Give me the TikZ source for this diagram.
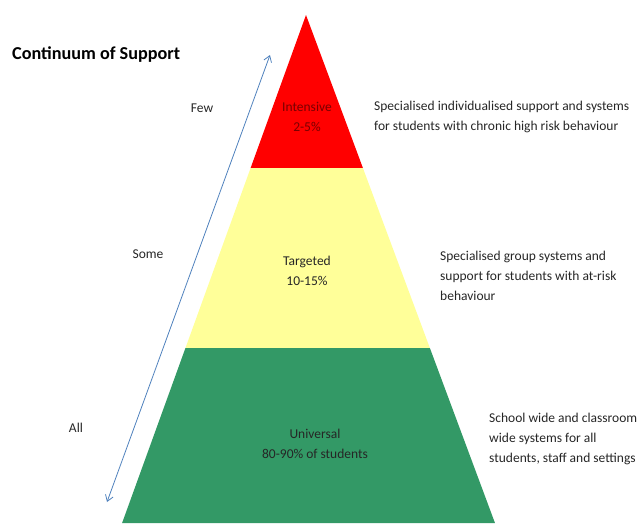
\documentclass[tikz,border=0pt]{standalone}
\usepackage{fontspec}
\setmainfont{Carlito}
\usetikzlibrary{arrows.meta}
\definecolor{pyrred}{RGB}{255,0,0}
\definecolor{pyryellow}{RGB}{255,255,153}
\definecolor{pyrgreen}{RGB}{51,153,102}
\definecolor{arrblue}{RGB}{79,129,189}
\definecolor{darkred}{RGB}{120,0,0}
\tikzset{
  lbl/.style={font=\fontsize{13.5}{20}\selectfont, text=black!85, inner sep=0pt},
  tierlbl/.style={lbl, align=center},
  desc/.style={lbl, align=left, anchor=north west},
}
\begin{document}
\begin{tikzpicture}[x=1pt,y=-1pt]
\useasboundingbox (0,0) rectangle (640,523);
% pyramid geometry: apex (306,15), left slope 0.362, right slope 0.372
\coordinate (apex) at (306,15);
\fill[pyrred] (306,15) -- ({306-0.362*153},168) -- ({306+0.372*153},168) -- cycle;
\fill[pyryellow] ({306-0.362*153},168) -- ({306+0.372*153},168) -- ({306+0.372*333},348) -- ({306-0.362*333},348) -- cycle;
\fill[pyrgreen] ({306-0.362*333},348) -- ({306+0.372*333},348) -- ({306+0.372*508},523) -- ({306-0.362*508},523) -- cycle;
% title
\node[anchor=west, inner sep=0pt, font=\fontsize{18.2}{20}\bfseries\selectfont] (title) at (12,55) {Continuum of Support};
% arrow
\coordinate (arrLo) at (107,502);
\coordinate (arrHi) at (270,55);
\draw[arrblue, line width=0.8pt, {Straight Barb[length=6pt,width=8pt]}-{Straight Barb[length=6pt,width=8pt]}] (arrLo) -- (arrHi);
% side labels
\node[lbl] (few) at (202,108) {Few};
\node[lbl] (some) at (148,254) {Some};
\node[lbl] (all) at (76,428) {All};
% tier labels
\node[tierlbl, text=darkred] (intensive) at (307,117) {Intensive\\2-5\%};
\node[tierlbl] (targeted) at (307,271) {Targeted\\10-15\%};
\node[tierlbl] (universal) at (315,444) {Universal\\80-90\% of students};
% descriptions
\node[desc] (d1) at (374,101) {Specialised individualised support and systems\\for students with chronic high risk behaviour};
\node[desc] (d2) at (440,251) {Specialised group systems and\\support for students with at-risk\\behaviour};
\node[desc] (d3) at (489,413) {School wide and classroom\\wide systems for all\\students, staff and settings};
\end{tikzpicture}
\end{document}
